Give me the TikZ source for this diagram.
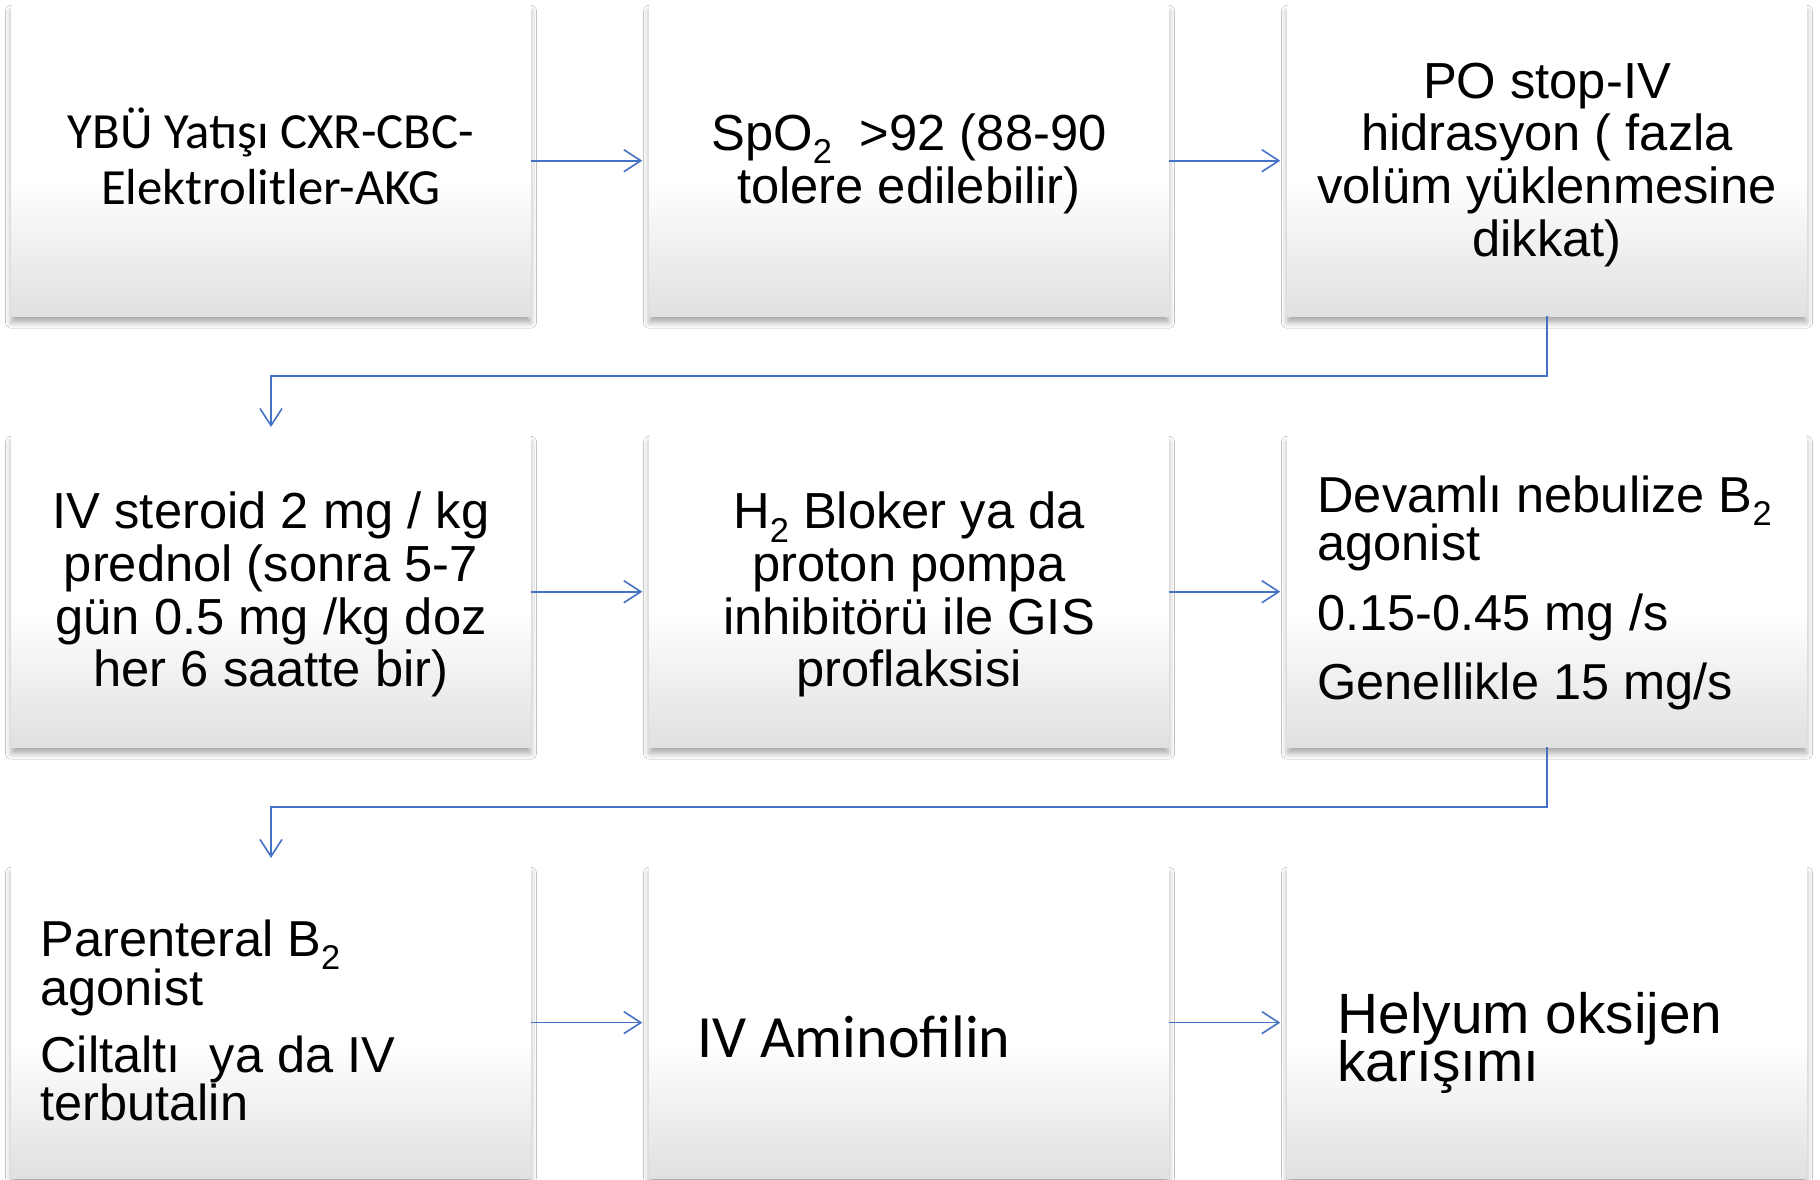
\documentclass[tikz,border=0pt]{standalone}
\usepackage{fontspec}
\setmainfont{Liberation Sans}
\newfontfamily\calib{Carlito}
\usetikzlibrary{arrows.meta,calc,shadows.blur}
\definecolor{boxbot}{RGB}{224,224,224}
\definecolor{arrowblue}{RGB}{68,114,196}
\pgfdeclareverticalshading{boxshade}{100bp}{color(0bp)=(boxbot); color(25bp)=(boxbot); color(47bp)=(white); color(100bp)=(white)}
\newcommand\subtwo{\raisebox{-0.26em}{\scalebox{0.68}{2}}}
\AtBeginDocument{\lineskiplimit=-200pt\relax}
\begin{document}
\begin{tikzpicture}[x=1pt,y=1pt,
  box/.style={rectangle, minimum width=519pt, minimum height=311pt, inner sep=0pt,
    shading=boxshade, blur shadow={shadow xshift=0pt, shadow yshift=-6pt, shadow blur radius=6pt, shadow opacity=35}},
  ctxt/.style={inner sep=0pt, align=center, font=\fontsize{50.7}{52.6}\selectfont},
  ltxt/.style={inner sep=0pt, align=left, anchor=west, font=\fontsize{50.5}{48.5}\selectfont},
  conn/.style={draw=arrowblue, line width=1.6pt, line join=miter,
    -{Straight Barb[length=17pt,width=22pt,line width=1.6pt]}, shorten >=7pt}
]
\useasboundingbox (0,0) rectangle (1820,-1179);
\fill[white] (0,0) rectangle (1820,-1179);

% boxes
\node[box] (b1) at (271,-160.7) {};
\node[box] (b2) at (909,-160.7) {};
\node[box] (b3) at (1547,-160.7) {};
\node[box] (b4) at (271,-591.7) {};
\node[box] (b5) at (909,-591.7) {};
\node[box] (b6) at (1547,-591.7) {};
\node[box] (b7) at (271,-1022.6) {};
\node[box] (b8) at (909,-1022.6) {};
\node[box] (b9) at (1547,-1022.6) {};

% texts
\node[ctxt, font=\calib\fontsize{50.7}{56}\selectfont] (t1) at ([yshift=4.5pt]b1.center) {YBÜ Yatışı CXR-CBC-\\Elektrolitler-AKG};
\node[ctxt] (t2) at ([yshift=-3pt]b2.center) {SpO\subtwo\hspace{0.55em}>92 (88-90\\tolere edilebilir)};
\node[ctxt] (t3) at ([yshift=-4pt]b3.center) {PO stop-IV\\hidrasyon ( fazla\\volüm yüklenmesine\\dikkat)};
\node[ctxt] (t4) at ([yshift=-3pt]b4.center) {IV steroid 2 mg / kg\\prednol (sonra 5-7\\gün 0.5 mg /kg doz\\her 6 saatte bir)};
\node[ctxt] (t5) at ([yshift=-3pt]b5.center) {H\subtwo{} Bloker ya da\\proton pompa\\inhibitörü ile GIS\\proflaksisi};
\node[ltxt] (t6) at ([xshift=30pt,yshift=-1pt]b6.west) {Devamlı nebulize B\subtwo\\agonist\\[21pt]0.15-0.45 mg /s\\[21pt]Genellikle 15 mg/s};
\node[ltxt] (t7) at ([xshift=29pt,yshift=2pt]b7.west) {Parenteral B\subtwo\\agonist\\[18.5pt]Ciltaltı\hspace{0.3em} ya da IV\\terbutalin};
\node[ltxt, font=\calib\fontsize{60}{62}\selectfont] (t8) at ([xshift=48pt,yshift=-14pt]b8.west) {IV Aminofilin};
\node[ltxt, font=\fontsize{56.8}{48}\selectfont] (t9) at ([xshift=50pt,yshift=-20pt]b9.west) {Helyum oksijen\\karışımı};

% connectors
\draw[conn] (b1.east) -- (b2.west);
\draw[conn] (b2.east) -- (b3.west);
\draw[conn, shorten >=9pt] (b3.south) -- ($(b3.south)!0.5!(b6.north)$) -| (b4.north);
\draw[conn] (b4.east) -- (b5.west);
\draw[conn] (b5.east) -- (b6.west);
\draw[conn, shorten >=9pt] (b6.south) -- ($(b6.south)!0.5!(b9.north)$) -| (b7.north);
\draw[conn] (b7.east) -- (b8.west);
\draw[conn] (b8.east) -- (b9.west);
\end{tikzpicture}
\end{document}
